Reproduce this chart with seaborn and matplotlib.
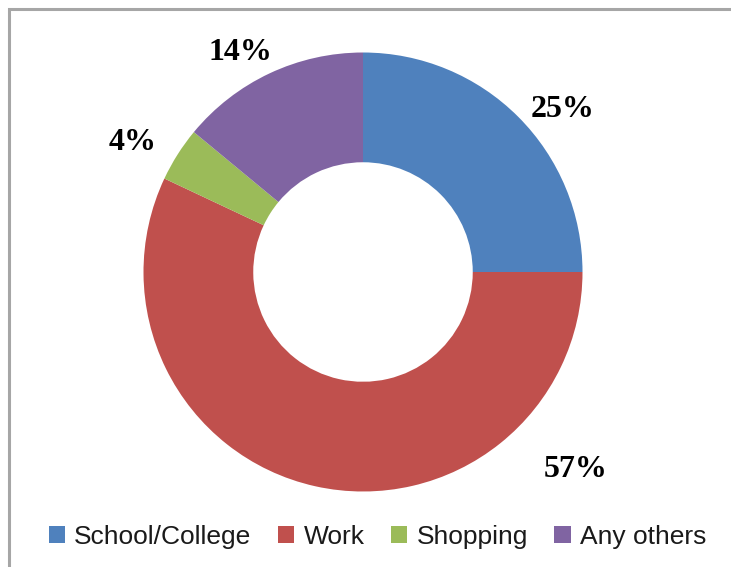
import matplotlib
matplotlib.use("Agg")
import matplotlib.pyplot as plt
import seaborn as sns
from matplotlib.patches import Rectangle, Patch

categories = ["School/College", "Work", "Shopping", "Any others"]
values = [25, 57, 4, 14]
pct_labels = ["25%", "57%", "4%", "14%"]
colors = ["#4F81BD", "#C0504D", "#9BBB59", "#8064A2"]

# label positions (axes data units, pie radius = 1)
label_pos = [(0.91, 0.74), (0.97, -0.90), (-1.05, 0.59), (-0.56, 1.0)]

sns.set_theme(style="white")
plt.rcParams['font.family'] = ['DejaVu Sans']

W, H = 731, 567
fig = plt.figure(figsize=(W / 100, H / 100), dpi=100)
fig.patch.set_facecolor("white")

cx, cy, R = 363, 272, 219.5
ax = fig.add_axes([(cx - R) / W, (H - cy - R) / H, 2 * R / W, 2 * R / H])
wedges, _ = ax.pie(values, colors=colors, startangle=90, counterclock=False,
                   radius=1.0, wedgeprops=dict(width=0.5, linewidth=0))
ax.set_xlim(-1, 1)
ax.set_ylim(-1, 1)
ax.set_aspect("equal")
ax.axis("off")

for (x, y), t in zip(label_pos, pct_labels):
    ax.text(x, y, t, ha="center", va="center", fontsize=23, fontweight="bold",
            color="black", family=["Liberation Serif", "DejaVu Serif"], clip_on=False)

# outer border (top and left visible)
fig.add_artist(Rectangle((8.5 / W, -0.1), 1.2, (H - 8.5) / H + 0.1, transform=fig.transFigure,
                         fill=False, edgecolor="#A6A6A6", linewidth=2.2))

handles = [Patch(facecolor=c, edgecolor="none") for c in colors]
leg = fig.legend(handles, categories, loc="center", bbox_to_anchor=(377.5 / W, 1 - 537 / H),
                 ncol=4, frameon=False, handlelength=0.62, handleheight=0.62,
                 handletextpad=0.35, columnspacing=1.0,
                 prop=dict(family=["Liberation Sans", "DejaVu Sans"], size=19))
for t in leg.get_texts():
    t.set_color("#1a1a1a")

fig.savefig("out.png", dpi=100)
